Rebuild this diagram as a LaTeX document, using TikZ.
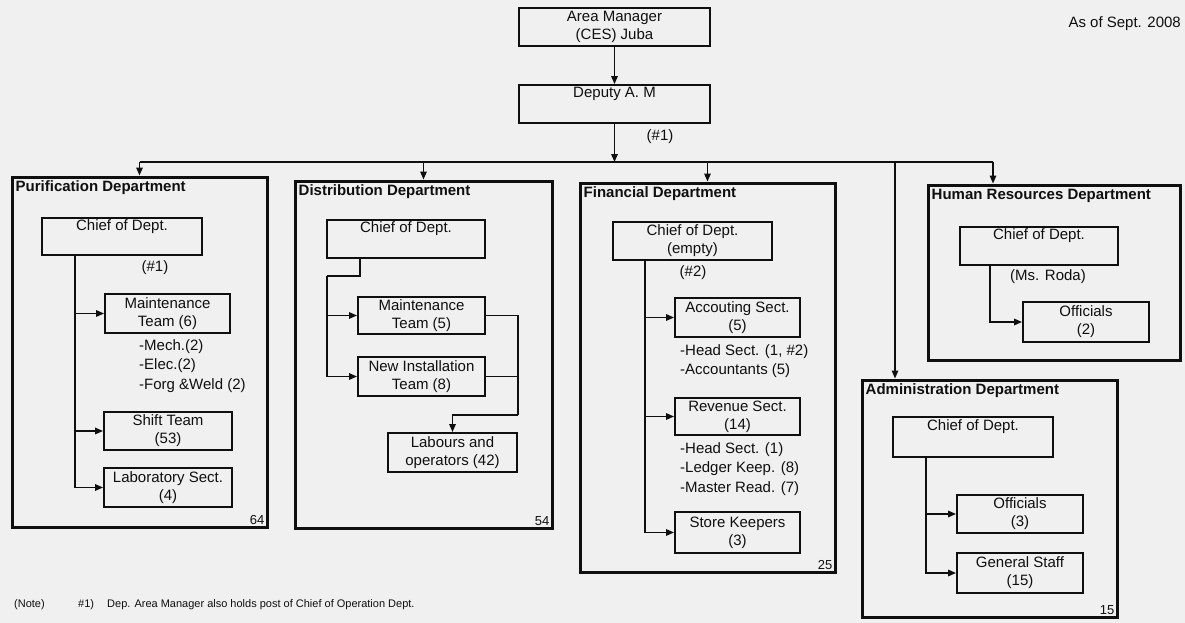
\documentclass[tikz,border=0pt]{standalone}
\usepackage{fontspec}
\setmainfont{Liberation Sans}
\usetikzlibrary{arrows.meta}
\definecolor{bgc}{RGB}{240,240,240}
\definecolor{ink}{RGB}{15,15,15}
\newcommand\bxf{\fontsize{15}{18}\selectfont}
\newcommand\dpf{\fontsize{15}{17}\selectfont\bfseries}
\newcommand\ntf{\fontsize{11}{13}\selectfont}
\begin{document}
\begin{tikzpicture}[x=1pt,y=-1pt,
  box/.style={draw=ink, line width=1.9pt, inner sep=1pt, align=center, font=\bxf, text=ink},
  dept/.style={draw=ink, line width=3pt, inner sep=0pt},
  dlabel/.style={anchor=north west, font=\dpf, inner sep=5pt, text=ink},
  num/.style={anchor=south east, font=\fontsize{13}{15}\selectfont, inner sep=4pt, text=ink},
  conn/.style={draw=ink, line width=1.5pt},
  arr/.style={conn, -{Triangle[length=8pt,width=6.5pt]}},
  annot/.style={font=\bxf, text=ink, inner sep=0pt},
  sublist/.style={anchor=north west, align=left, font=\fontsize{15}{19.5}\selectfont, inner sep=0pt, text=ink},
  notetxt/.style={font=\ntf, text=ink, inner sep=0pt, anchor=west}
]
\fill[bgc] (0,0) rectangle (1185,623);
\useasboundingbox (0,0) rectangle (1185,623);

% top
\node[box, minimum width=191pt, minimum height=38pt] (am) at (614.5,27) {Area Manager\\(CES) Juba};
\node[box, minimum width=191pt, minimum height=38pt] (dam) at (614.5,104) {Deputy A. M\\\strut};
\node[annot] (n1) at (660,137) {(\#1)};
\node[annot, anchor=east] (asof) at (1181,24) {As of Sept. 2008};
\coordinate (bus) at (614.5,162);
\draw[arr] (am) -- (dam);
\draw[arr] (dam) -- (bus);

% departments
\node[dept, minimum width=255pt, minimum height=350pt, label={[dlabel]north west:Purification Department}, label={[num]south east:64}] (pur) at (139.5,352) {};
\node[dept, minimum width=257pt, minimum height=347pt, label={[dlabel]north west:Distribution Department}, label={[num]south east:54}] (dis) at (423.5,354.5) {};
\node[dept, minimum width=255pt, minimum height=389pt, label={[dlabel]north west:Financial Department}, label={[num]south east:25}] (fin) at (707.5,377.5) {};
\node[dept, minimum width=252pt, minimum height=175pt, label={[dlabel]north west:Human Resources Department}] (hr) at (1054,272.5) {};
\node[dept, minimum width=255pt, minimum height=237pt, label={[dlabel]north west:Administration Department}, label={[num]south east:15}] (adm) at (989.5,498.5) {};

% bus
\coordinate (xHR) at (993,0);
\coordinate (xAD) at (895,0);
\draw[conn] (pur.north |- bus) -- (xHR |- bus);
\draw[arr] (pur.north |- bus) -- (pur.north);
\draw[arr] (dis.north |- bus) -- (dis.north);
\draw[arr] (fin.north |- bus) -- (fin.north);
\draw[arr] (xAD |- bus) -- (xAD |- adm.north);
\draw[arr] (xHR |- bus) -- (xHR |- hr.north);

% Purification
\node[box, minimum width=160pt, minimum height=37pt] (pc) at (122,236.5) {Chief of Dept.\\\strut};
\node[annot] (pn) at (155,268) {(\#1)};
\node[box, minimum width=125pt, minimum height=39pt] (pm) at (167.5,313.5) {Maintenance\\Team (6)};
\node[sublist] (pms) at (139,339) {-Mech.(2)\\-Elec.(2)\\-Forg \&Weld (2)};
\node[box, minimum width=128pt, minimum height=38pt] (ps) at (168,431) {Shift Team\\(53)};
\node[box, minimum width=128pt, minimum height=39pt] (pl) at (168,487.5) {Laboratory Sect.\\(4)};
\coordinate (px) at (75,0);
\draw[arr] (px |- pc.south) |- (pl.west);
\draw[arr] (px |- pm.west) -- (pm.west);
\draw[arr] (px |- ps.west) -- (ps.west);

% Distribution
\node[box, minimum width=158pt, minimum height=38pt] (dc) at (406,239) {Chief of Dept.\\\strut};
\node[box, minimum width=127pt, minimum height=37pt] (dm) at (421.5,315.5) {Maintenance\\Team (5)};
\node[box, minimum width=127pt, minimum height=39pt] (dn) at (421.5,376.5) {New Installation\\Team (8)};
\node[box, minimum width=129pt, minimum height=39pt] (dl) at (452.5,452.5) {Labours and\\operators (42)};
\coordinate (dj) at (327,276);
\coordinate (dr) at (518,415);
\coordinate (dx) at (360,0);
\draw[conn] (dx |- dc.south) |- (dj);
\draw[arr] (dj) |- (dn.west);
\draw[arr] (dj |- dm.west) -- (dm.west);
\draw[conn] (dm.east) -| (dr);
\draw[conn] (dn.east) -- (dn.east -| dr);
\draw[arr] (dr) -| (dl.north);

% Financial
\node[box, minimum width=159pt, minimum height=38pt] (fc) at (692.5,241) {Chief of Dept.\\(empty)};
\node[annot] (fn) at (693,273) {(\#2)};
\node[box, minimum width=125pt, minimum height=39pt] (fa) at (737.5,317.5) {Accouting Sect.\\(5)};
\node[sublist] (fas) at (680,344) {-Head Sect. (1, \#2)\\-Accountants (5)};
\node[box, minimum width=125pt, minimum height=37pt] (fr) at (737.5,416.5) {Revenue Sect.\\(14)};
\node[sublist] (frs) at (680,442) {-Head Sect. (1)\\-Ledger Keep. (8)\\-Master Read. (7)};
\node[box, minimum width=125pt, minimum height=41pt] (fs) at (737.5,532.5) {Store Keepers\\(3)};
\coordinate (fx) at (645,0);
\draw[arr] (fx |- fc.south) |- (fs.west);
\draw[arr] (fx |- fa.west) -- (fa.west);
\draw[arr] (fx |- fr.west) -- (fr.west);

% Human Resources
\node[box, minimum width=158pt, minimum height=38pt] (hc) at (1039,246) {Chief of Dept.\\\strut};
\node[annot] (hn) at (1048,277) {(Ms. Roda)};
\node[box, minimum width=126pt, minimum height=40pt] (ho) at (1086,322) {Officials\\(2)};
\coordinate (hx) at (990,0);
\draw[arr] (hx |- hc.south) |- (ho.west);

% Administration
\node[box, minimum width=160pt, minimum height=40pt] (ac) at (973,437) {Chief of Dept.\\\strut};
\node[box, minimum width=126pt, minimum height=38pt] (ao) at (1020,514) {Officials\\(3)};
\node[box, minimum width=126pt, minimum height=40pt] (ag) at (1020,573) {General Staff\\(15)};
\coordinate (ax) at (926,0);
\draw[arr] (ax |- ac.south) |- (ag.west);
\draw[arr] (ax |- ao.west) -- (ao.west);

% note
\node[notetxt] (nt1) at (14,605) {(Note)};
\node[notetxt] (nt2) at (78,605) {\#1)};
\node[notetxt] (nt3) at (107,605) {Dep. Area Manager also holds post of Chief of Operation Dept.};
\end{tikzpicture}
\end{document}
